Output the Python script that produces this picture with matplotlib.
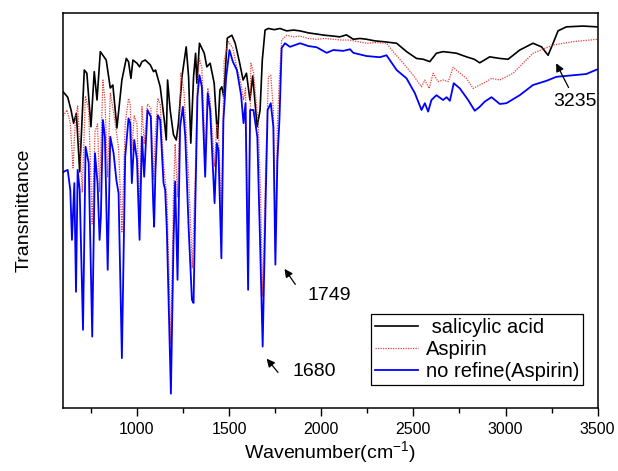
import numpy as np
import matplotlib
matplotlib.use("Agg")
import matplotlib.pyplot as plt

plt.rcParams['font.family'] = ['Liberation Sans', 'DejaVu Sans']
plt.rcParams['mathtext.default'] = 'regular'

# salicylic acid (wavenumber cm-1, transmittance, arbitrary %)
sal_wn = [600, 624, 642, 656, 671, 689, 714, 728, 750, 768, 783, 801, 833, 855, 869,
          891, 918, 942, 954, 967, 978, 1000, 1014, 1027, 1045, 1072, 1090, 1101, 1126,
          1148, 1159, 1166, 1180, 1198, 1213, 1225, 1244, 1267, 1280, 1292, 1307, 1318,
          1325, 1339, 1365, 1379, 1397, 1419, 1437, 1450, 1460, 1471, 1490, 1515, 1533,
          1556, 1576, 1594, 1613, 1628, 1652, 1668, 1680, 1695, 1713, 1745, 1776, 1812,
          1850, 1884, 1930, 1975, 2020, 2065, 2100, 2137, 2174, 2210, 2246, 2290, 2336,
          2409, 2463, 2517, 2553, 2589, 2625, 2661, 2700, 2734, 2788, 2830, 2860, 2914,
          2969, 3014, 3077, 3149, 3195, 3231, 3258, 3285, 3330, 3420, 3500]
sal_t = [80, 78.7, 75.5, 72.2, 74.7, 60, 85.5, 84.7, 71.3, 85.1, 78, 90.1, 88, 81, 81.75,
         71, 83, 88.4, 87.6, 83.4, 88, 87.2, 86.3, 87.6, 88, 86.8, 85.1, 85.5, 81.3,
         73, 68, 83, 75.5, 69.3, 68, 72.2, 83.8, 91.3, 83.8, 67.2, 83.8, 89.7,
         82.2, 92.2, 89.7, 86.3, 87.2, 82.2, 68.4, 80.5, 81.3, 78.8, 93.5, 94.2, 92.2,
         87.5, 83, 84.7, 78, 84, 71.3, 75.5, 88, 95.5, 95.9, 95.6, 95.9, 95.3,
         95.5, 95.3, 94.8, 94.5, 94.2, 94, 93.8, 94.3, 93.2, 93.4, 93.2, 92.8, 92.6,
         92.2, 90.1, 88.4, 88.2, 87.6, 89.7, 90.1, 89.9, 89.7, 88.8, 88.2, 87.3, 88.8,
         88.4, 88.2, 90.5, 92.2, 91.3, 89.2, 92.2, 95.3, 96.3, 96.5, 96.3]

# aspirin
asp_wn = [600, 620, 638, 653, 665, 678, 689, 703, 720, 738, 757, 772, 786, 797, 815,
          826, 841, 855, 873, 888, 900, 918, 936, 954, 963, 972, 985, 1000, 1014, 1027,
          1039, 1057, 1075, 1090, 1100, 1113, 1126, 1144, 1162, 1184, 1198, 1207, 1220,
          1238, 1255, 1280, 1300, 1316, 1328, 1339, 1352, 1370, 1384, 1397, 1421, 1433,
          1442, 1458, 1473, 1496, 1520, 1542, 1565, 1578, 1589, 1603, 1618, 1632, 1659,
          1670, 1682, 1697, 1713, 1726, 1740, 1751, 1762, 1773, 1785, 1812, 1850, 1884,
          1930, 1975, 2020, 2065, 2110, 2155, 2200, 2246, 2300, 2354, 2390, 2445, 2499,
          2544, 2562, 2586, 2607, 2634, 2661, 2689, 2716, 2743, 2788, 2824, 2860, 2896,
          2924, 2969, 3041, 3149, 3258, 3366, 3500]
asp_t = [74, 75.5, 72.2, 61, 73, 76.5, 67, 55, 79, 75.5, 47, 70, 72, 55, 83,
         78, 58.8, 79.7, 75, 70, 66, 45, 72, 78.4, 77, 65.5, 74, 72, 50.5, 76.3,
         67, 77, 76, 58, 70, 78.4, 77, 62, 54, 17, 54, 67, 53.8,
         84.7, 80, 59, 36, 59, 82, 88.4, 86, 65.5, 81, 78, 61.3, 72,
         70, 50, 88, 92.6, 91, 86, 82, 78, 81, 40, 87.2, 85, 71.3,
         55, 28.8, 58.8, 83.8, 84.2, 75.5, 40, 72, 83.8, 93, 94.2, 93.8, 94,
         93.4, 93.2, 93.4, 93.2, 93, 93, 92.6, 92.2, 92.4, 92.2, 90.1, 87.2, 84.2,
         81.3, 83, 80.9, 84.7, 82.6, 83, 82.6, 86.2, 85.1, 83.4, 80.9, 81.75, 82.6,
         83.4, 83, 84.7, 89.7, 91.75, 92.6, 93.2]

# aspirin, no refine
raw_wn = [600, 624, 638, 647, 660, 669, 678, 689, 707, 721, 738, 757, 772, 786, 797,
          804, 815, 826, 841, 855, 873, 888, 900, 918, 936, 954, 963, 972, 985, 1000,
          1014, 1027, 1039, 1057, 1075, 1088, 1093, 1100, 1113, 1126, 1144, 1153, 1162,
          1184, 1198, 1207, 1220, 1234, 1249, 1262, 1280, 1298, 1307, 1316, 1328, 1339,
          1352, 1370, 1384, 1397, 1421, 1433, 1442, 1458, 1469, 1484, 1502, 1520, 1542,
          1565, 1578, 1589, 1603, 1614, 1632, 1653, 1668, 1682, 1697, 1709, 1726, 1740,
          1751, 1762, 1773, 1785, 1803, 1830, 1860, 1885, 1930, 1975, 2029, 2065, 2120,
          2156, 2174, 2246, 2318, 2354, 2372, 2409, 2463, 2508, 2544, 2562, 2580, 2598,
          2625, 2661, 2680, 2698, 2719, 2752, 2797, 2833, 2860, 2887, 2924, 2969, 3005,
          3077, 3149, 3222, 3276, 3366, 3438, 3500]
raw_t = [60, 60.5, 55.5, 43, 57.2, 30, 60.5, 55.5, 20.5, 66.3, 62.2, 18.8, 64.7, 57.2, 43,
         48.8, 73, 68.8, 35.5, 68.8, 64.7, 58, 54.7, 13.4, 63.8, 73.4, 72.2, 57.2, 68, 63,
         43, 68.8, 58.8, 75.5, 73.8, 52, 46.3, 60, 74.2, 73, 57.2, 55.5, 45.5,
         4.5, 42.2, 57.6, 33, 71.3, 76.3, 68.8, 46.3, 28, 27.2, 50.5, 78.8, 84.2,
         81.3, 58.8, 79.7, 75.5, 52.2, 67.2, 65.5, 38.4, 73, 83.8, 90.5, 87.6, 85.5,
         79.2, 72.2, 77.2, 30.5, 75.5, 75.5, 68.8, 42.2, 16.3, 50.5, 75.5, 77.2, 71.3,
         36.8, 63, 73, 91, 92.2, 91.3, 91.8, 92.2, 91.5, 91.2, 89.8, 90.5, 90.3,
         90.7, 89.8, 89, 88.7, 89.2, 88, 85.5, 83.4, 79.7, 75.5, 77.2, 75.1, 78,
         79.2, 78, 78.7, 77.8, 82.2, 80.9, 78, 75.3, 76.3, 77.6, 78.7, 77, 77.2,
         79.2, 81.75, 82.8, 83.8, 84.2, 84.5, 85.7]

fig = plt.figure(figsize=(6.18, 4.71), dpi=100)
ax = fig.add_axes([0.1024, 0.1344, 0.8647, 0.8374])

ax.plot(sal_wn, sal_t, color='black', lw=1.2, label=' salicylic acid')
ax.plot(asp_wn, asp_t, color='#e0403a', lw=0.9, linestyle=(0, (1, 1)), label='Aspirin')
ax.plot(raw_wn, raw_t, color='#0000ff', lw=1.3, label='no refine(Aspirin)')

ax.set_xlim(600, 3500)
ax.set_ylim(1, 99.7)
ax.set_xticks([1000, 1500, 2000, 2500, 3000, 3500])
ax.set_xticks([750, 1250, 1750, 2250, 2750, 3250], minor=True)
ax.set_yticks([])
ax.tick_params(axis='x', direction='out', length=6, width=1, labelsize=11.5, pad=4)
ax.tick_params(axis='x', which='minor', direction='out', length=3.5, width=1)
for s in ax.spines.values():
    s.set_linewidth(1.1)

ax.set_xlabel('Wavenumber(cm$^{-1}$)', fontsize=14, labelpad=2)
ax.set_ylabel('Transmittance', fontsize=14, labelpad=22)

arw = dict(arrowstyle='-|>', color='black', lw=0.9, mutation_scale=12)
ax.annotate('', xy=(1792, 36.3), xytext=(1868, 31.3), arrowprops=arw)
ax.text(1928, 29, '1749', fontsize=14, va='center', ha='left')
ax.annotate('', xy=(1694, 13.8), xytext=(1775, 9.3), arrowprops=arw)
ax.text(1842, 10, '1680', fontsize=14, va='center', ha='left')
ax.annotate('', xy=(3268, 87.8), xytext=(3349, 80.5), arrowprops=arw)
ax.text(3496, 77.6, '3235', fontsize=14, va='center', ha='right')

leg = ax.legend(loc='lower right', bbox_to_anchor=(0.9725, 0.0576), fontsize=14.5,
                frameon=True, fancybox=False, edgecolor='black', framealpha=1,
                borderpad=0.2, labelspacing=0.15, handlelength=2.1,
                handletextpad=0.4, borderaxespad=0)
leg.get_frame().set_linewidth(0.9)

fig.savefig('out.png', dpi=100)
